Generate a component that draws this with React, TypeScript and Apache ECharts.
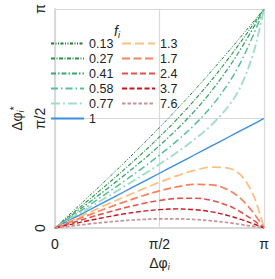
import React, { useEffect, useRef } from "react";
import * as echarts from "echarts";

// x values: Δφ_i in degrees (0 .. 180 ≙ 0 .. π)
const dphi = [0, 15, 30, 45, 60, 75, 90, 105, 120, 135, 150, 160, 170, 175, 178, 180];

// Δφ* in degrees for each f_i
const f013 = [0, 13.3, 26.7, 40.2, 54.0, 68.1, 82.6, 97.6, 113.1, 129.2, 145.8, 157.1, 168.5, 174.3, 177.7, 180];
const f027 = [0, 11.8, 23.8, 35.9, 48.4, 61.3, 74.9, 89.3, 104.9, 121.7, 140.0, 152.9, 166.4, 173.2, 177.3, 180];
const f041 = [0, 10.7, 21.4, 32.3, 43.6, 55.3, 67.7, 81.1, 95.9, 112.8, 132.4, 147.2, 163.2, 171.5, 176.6, 180];
const f058 = [0, 9.5, 19.1, 28.8, 38.7, 49.0, 59.9, 71.6, 84.7, 100.2, 119.8, 136.4, 156.8, 168.2, 175.2, 180];
const f077 = [0, 8.5, 17.0, 25.6, 34.3, 43.2, 52.4, 62.1, 72.7, 84.9, 100.9, 116.4, 141.1, 158.9, 171.4, 180];
const f100 = [0, 7.5, 15, 22.5, 30, 37.5, 45, 52.5, 60, 67.5, 75, 80, 85, 87.5, 89, 90];
const f130 = [0, 6.5, 13.0, 19.4, 25.7, 31.8, 37.6, 42.9, 47.3, 50.0, 49.0, 43.5, 28.9, 16.0, 6.6, 0];
const f170 = [0, 5.6, 11.0, 16.4, 21.5, 26.3, 30.5, 33.8, 35.8, 35.5, 30.9, 24.2, 13.6, 7.1, 2.9, 0];
const f240 = [0, 4.4, 8.7, 12.8, 16.6, 20.0, 22.6, 24.3, 24.5, 22.7, 18.1, 13.2, 7.0, 3.6, 1.4, 0];
const f370 = [0, 3.2, 6.3, 9.1, 11.7, 13.7, 15.1, 15.7, 15.1, 13.3, 10.0, 7.1, 3.7, 1.9, 0.7, 0];
const f760 = [0, 1.7, 3.4, 4.9, 6.1, 7.0, 7.5, 7.5, 7.0, 5.9, 4.3, 2.9, 1.5, 0.8, 0.3, 0];

const names = ["0.13", "0.27", "0.41", "0.58", "0.77", "1", "1.3", "1.7", "2.4", "3.7", "7.6"];
const values = [f013, f027, f041, f058, f077, f100, f130, f170, f240, f370, f760];
const colors = [
  "#1f7a3e", "#2f8f52", "#3aa56c", "#56c096", "#a3dcc9",
  "#3a8ee6",
  "#fdbf86", "#f5835f", "#e3514c", "#c8141c", "#c99294",
];
const dashes: (number[] | string)[] = [
  [3, 1.5, 1, 1.5, 1, 1.5],
  [4, 1.5, 1, 1.5],
  [5, 2, 1.5, 2],
  [7, 3, 1.5, 3],
  [9, 3, 2, 3],
  "solid",
  [9, 4],
  [8, 3.5],
  [6, 3],
  [5, 2.5],
  [3.5, 2],
];
const widths = [1, 1.1, 1.3, 1.5, 1.9, 1.4, 1.8, 1.7, 1.6, 1.4, 1.7];

const tickLabels: Record<number, string> = { 0: "0", 90: "π/2", 180: "π" };

const FONT = "'Liberation Sans', Arial, sans-serif";

export default function App() {
  const ref = useRef<HTMLDivElement>(null);
  useEffect(() => {
    if (!ref.current) return;
    const chart = echarts.init(ref.current, undefined, { renderer: "svg" });
    const series = names.map((n, k) => ({
      name: n,
      type: "line",
      smooth: 0.35,
      symbol: "none",
      data: dphi.map((x, j) => [x, values[k][j]]),
      lineStyle: { color: colors[k], width: widths[k], type: dashes[k] },
      itemStyle: { color: colors[k] },
      z: 2,
    }));
    const legendCommon = {
      orient: "vertical",
      top: 37,
      itemWidth: 33,
      itemHeight: 10,
      itemGap: 2,
      padding: 0,
      itemStyle: { opacity: 0 },
      textStyle: { fontSize: 12.5, lineHeight: 12, color: "#222", fontFamily: FONT, fontWeight: "normal" },
    };
    chart.setOption({
      animation: false,
      textStyle: { fontFamily: FONT },
      grid: { left: 48, right: 11, top: 9, bottom: 51 },
      title: {
        text: "{f|f}{i|i}",
        left: 109,
        top: 17,
        textStyle: {
          fontWeight: "normal",
          rich: {
            f: { fontFamily: FONT, fontStyle: "italic", fontWeight: "normal", fontSize: 14, color: "#222" },
            i: { fontFamily: FONT, fontStyle: "italic", fontWeight: "normal", fontSize: 9, color: "#222", padding: [8, 0, 0, 0] },
          },
        },
      },
      legend: [
        { ...legendCommon, data: names.slice(0, 6), left: 50 },
        { ...legendCommon, data: names.slice(6), left: 121 },
      ],
      xAxis: {
        type: "value",
        min: 0,
        max: 180,
        interval: 90,
        name: "{a|Δφ}{s|i}",
        nameLocation: "middle",
        nameGap: 22,
        nameTextStyle: {
          rich: {
            a: { fontFamily: FONT, fontSize: 14, color: "#222" },
            s: { fontFamily: FONT, fontSize: 9, fontStyle: "italic", color: "#222", padding: [8, 0, 0, 0] },
          },
        },
        axisLine: { lineStyle: { color: "#d9d9d9", width: 2 } },
        axisTick: { show: false },
        splitLine: { lineStyle: { color: "#d9d9d9", width: 1.2 } },
        axisLabel: {
          fontSize: 14,
          color: "#222",
          margin: 9,
          formatter: (v: number) => tickLabels[v] ?? "",
        },
      },
      yAxis: {
        type: "value",
        min: 0,
        max: 180,
        interval: 90,
        name: "{a|Δφ}{s|i}{p|*}",
        nameLocation: "middle",
        nameGap: 29,
        nameRotate: 90,
        nameTextStyle: {
          rich: {
            a: { fontFamily: FONT, fontSize: 14, color: "#222" },
            s: { fontFamily: FONT, fontSize: 9, fontStyle: "italic", color: "#222", padding: [8, 0, 0, 0] },
            p: { fontFamily: FONT, fontSize: 11, color: "#222", padding: [0, 0, 6, 0] },
          },
        },
        axisLine: { show: true, lineStyle: { color: "#d9d9d9", width: 2 } },
        axisTick: { show: false },
        splitLine: { lineStyle: { color: "#d9d9d9", width: 1.2 } },
        axisLabel: {
          fontSize: 14,
          color: "#222",
          margin: 8,
          rotate: 90,
          formatter: (v: number) => tickLabels[v] ?? "",
        },
      },
      series,
    });
    return () => chart.dispose();
  }, []);
  return (
    <div
      ref={ref}
      style={{ position: "fixed", left: 0, top: 0, width: 275, height: 279, background: "#fff" }}
    />
  );
}
